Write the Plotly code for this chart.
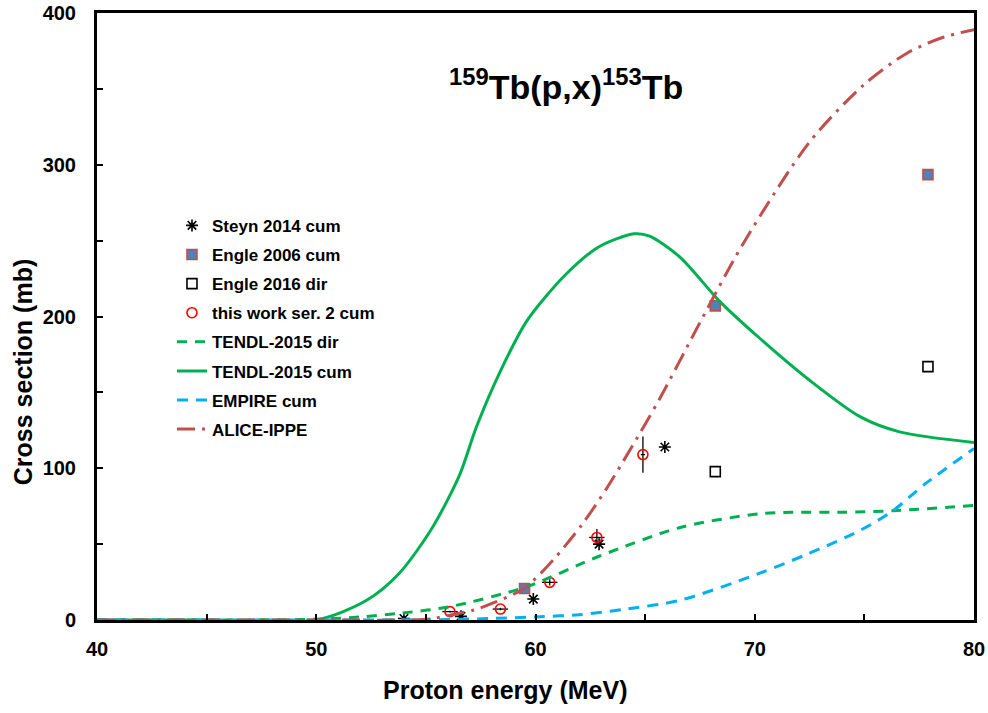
import plotly.graph_objects as go

# ---------------- data ----------------
steyn_x = [54.0, 56.6, 59.9, 62.9, 65.9]
steyn_y = [1.0, 2.4, 13.8, 50.0, 114.0]

engle06_x = [59.5, 68.2, 77.9]
engle06_y = [20.8, 207.0, 293.5]

engle16_x = [68.2, 77.9]
engle16_y = [97.8, 167.0]

work_x = [56.1, 58.4, 60.65, 62.8, 64.9]
work_y = [5.5, 7.2, 24.8, 54.4, 109.0]
work_dy = [0.6, 0.8, 2.0, 5.5, 12.0]
work_dx = [0.35, 0.35, 0.35, 0.35, 0.1]

tendl_dir_x = [40, 45, 50, 52, 53.8, 56.1, 59.6, 62.9, 66.6, 70.2, 71.7, 74.0, 76.3, 80]
tendl_dir_y = [0, 0, 0.5, 2.0, 4.4, 8.8, 22, 42, 61, 70, 71, 71, 72, 75.5]

tendl_cum_x = [40, 45, 50, 52.3, 53.8, 55.3, 56.55, 57.3, 58.4, 59.6, 61.4, 62.9, 64.5, 65.2,
               66.6, 68.4, 70.2, 72.5, 74.8, 76.6, 80]
tendl_cum_y = [0, 0, 0, 13, 31, 61, 96, 127, 164, 197, 228, 246, 254.5, 253,
               239, 210, 186, 158, 134, 124, 117]

empire_x = [40, 45, 50, 56, 58, 60.2, 62, 64, 66.6, 70.2, 72.5, 74.8, 76.3, 77.8, 80]
empire_y = [0, 0, 0, 0.3, 1, 2.2, 3.5, 7, 13, 30.7, 44, 59, 72, 90, 113]

alice_x = [40, 45, 50, 54, 55.2, 56.2, 57.2, 58.1, 59.5, 60.8, 62.1, 63.24, 64.3, 65.67,
           67.5, 69.47, 72.5, 75.0, 77.0, 78.6, 80]
alice_y = [0, 0, 0, 0, 0.7, 3.5, 6.6, 11.4, 21, 39.5, 62.5, 86.6, 111.8, 146,
           196, 248, 315, 353, 374, 384, 389]

x_range = [40, 80]
y_range = [0, 400]
x_ticks = [40, 50, 60, 70, 80]
y_ticks = [0, 100, 200, 300, 400]

title_text = "<b><sup>159</sup>Tb(p,x)<sup>153</sup>Tb</b>"
x_title = "<b>Proton energy (MeV)</b>"
y_title = "<b>Cross section (mb)</b>"

FONT = "Liberation Sans, Arial, sans-serif"
GREEN = "#00B050"
BLUE = "#00B0F0"
RED = "#C0504D"

fig = go.Figure()

fig.add_trace(go.Scatter(
    x=steyn_x, y=steyn_y, mode="markers", name="<b>Steyn 2014 cum</b>",
    legendgroup="g1",
    marker=dict(symbol="asterisk-open", size=10, color="black",
                line=dict(color="black", width=1.6))))

fig.add_trace(go.Scatter(
    x=engle06_x, y=engle06_y, mode="markers", name="<b>Engle 2006 cum</b>",
    legendgroup="g2",
    marker=dict(symbol="square", size=10, color="#4F81BD",
                line=dict(color=RED, width=1.6))))

fig.add_trace(go.Scatter(
    x=engle16_x, y=engle16_y, mode="markers", name="<b>Engle 2016 dir</b>",
    legendgroup="g3",
    marker=dict(symbol="square", size=10, color="white",
                line=dict(color="black", width=1.6))))

fig.add_trace(go.Scatter(
    x=work_x, y=work_y, mode="markers", name="<b>this work ser. 2 cum</b>",
    legendgroup="g4",
    error_y=dict(type="data", array=work_dy, color="black", thickness=1.3, width=0),
    error_x=dict(type="data", array=work_dx, color="black", thickness=1.3, width=0),
    marker=dict(symbol="circle-open", size=10, color="red",
                line=dict(color="red", width=1.6))))

fig.add_trace(go.Scatter(
    x=tendl_dir_x, y=tendl_dir_y, mode="lines", name="<b>TENDL-2015 dir</b>",
    legendgroup="g5",
    line=dict(color=GREEN, width=3, dash="10px,8px", shape="spline", smoothing=0.8)))

fig.add_trace(go.Scatter(
    x=tendl_cum_x, y=tendl_cum_y, mode="lines", name="<b>TENDL-2015 cum</b>",
    legendgroup="g6",
    line=dict(color=GREEN, width=3, shape="spline", smoothing=0.8)))

fig.add_trace(go.Scatter(
    x=empire_x, y=empire_y, mode="lines", name="<b>EMPIRE cum</b>",
    legendgroup="g7",
    line=dict(color=BLUE, width=3, dash="11px,8px", shape="spline", smoothing=0.8)))

fig.add_trace(go.Scatter(
    x=alice_x, y=alice_y, mode="lines", name="<b>ALICE-IPPE</b>",
    legendgroup="g8",
    line=dict(color=RED, width=3, dash="18px,7px,3px,7px", shape="spline", smoothing=0.8)))

# chart title inside plot area
fig.add_annotation(
    x=0.535, y=0.883, xref="paper", yref="paper", text=title_text, showarrow=False,
    xanchor="center", yanchor="middle", font=dict(family=FONT, size=34, color="black"))

# axis titles as annotations (positioned like the reference)
fig.add_annotation(
    x=0.465, y=-0.115, xref="paper", yref="paper", text=x_title, showarrow=False,
    xanchor="center", yanchor="middle", font=dict(family=FONT, size=25, color="black"))
fig.add_annotation(
    x=-0.085, y=0.409, xref="paper", yref="paper", text=y_title, showarrow=False,
    textangle=-90, xanchor="center", yanchor="middle",
    font=dict(family=FONT, size=25, color="black"))

axis_common = dict(
    showline=True, linewidth=3, linecolor="black", mirror=True,
    ticks="inside", ticklen=6, tickwidth=2, tickcolor="black",
    showgrid=False, zeroline=False, automargin=False,
    tickfont=dict(family=FONT, size=20, color="black"),
)

fig.update_xaxes(
    range=x_range, tickvals=x_ticks, ticktext=[f"<b>{v}</b>" for v in x_ticks],
    minor=dict(dtick=5, ticks="inside", ticklen=6, tickwidth=2, tickcolor="black"),
    ticklabelstandoff=9,
    **axis_common)

fig.update_yaxes(
    range=y_range, tickvals=y_ticks, ticktext=[f"<b>{v}</b>" for v in y_ticks],
    minor=dict(dtick=50, ticks="inside", ticklen=6, tickwidth=2, tickcolor="black"),
    ticklabelstandoff=14,
    **axis_common)

fig.update_layout(
    width=988, height=713,
    margin=dict(l=97, r=14, t=13, b=93, autoexpand=False),
    paper_bgcolor="white", plot_bgcolor="white",
    font=dict(family=FONT, color="black"),
    showlegend=True,
    legend=dict(x=0.0855, y=0.679, xanchor="left", yanchor="top",
                font=dict(family=FONT, size=17, color="black"),
                bgcolor="rgba(0,0,0,0)", borderwidth=0,
                traceorder="grouped", tracegroupgap=4),
)

fig.write_html("out.html")
